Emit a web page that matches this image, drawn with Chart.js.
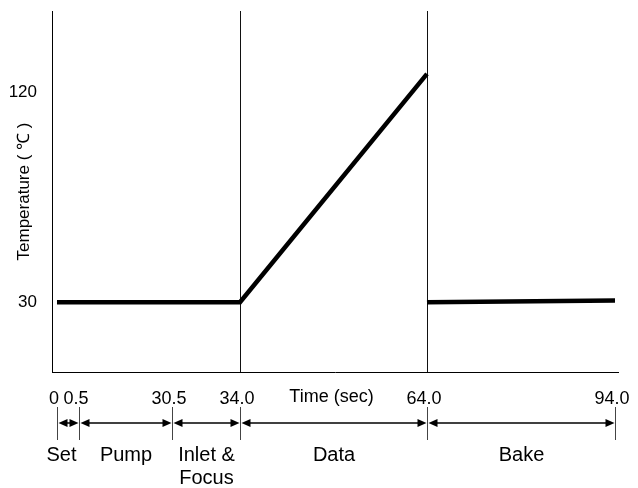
<!DOCTYPE html>
<html><head><meta charset="utf-8">
<script src="https://cdn.jsdelivr.net/npm/chart.js@4.4.1/dist/chart.umd.min.js"></script>
<style>html,body{margin:0;padding:0;background:#fff;}#wrap{width:638px;height:488px;}</style>
</head><body><div id="wrap"><canvas id="c" width="638" height="488"></canvas></div>
<script>
// ---- data ----
const rampTimes = [0, 34, 64];
const rampTemps = [30, 30, 128];
const bakeTimes = [64, 94];
const bakeTemps = [30, 30.7];
const boundaryTimes = [0, 0.5, 30.5, 34, 64, 94];
const boundaryLabels = ['0', '0.5', '30.5', '34.0', '64.0', '94.0'];
const stageNames = [['Set'], ['Pump'], ['Inlet &', 'Focus'], ['Data'], ['Bake']];
const phaseLineTimes = [34, 64];
const tempTicks = [30, 120];
const yTitle = 'Temperature ( \u2103 )';
const xTitle = 'Time (sec)';

// ---- layout: schematic (non-linear) time axis, fraction of plot width per boundary ----
const boundaryPos = [0.0088, 0.0477, 0.212, 0.3322, 0.6625, 0.9947];
const FONT = "'Liberation Sans', Arial, sans-serif";

class StageScale extends Chart.LinearScale {
  getPixelForValue(value) {
    const t = boundaryTimes, f = boundaryPos;
    let i = 0;
    while (i < t.length - 2 && value > t[i + 1]) i++;
    const frac = f[i] + (value - t[i]) * (f[i + 1] - f[i]) / (t[i + 1] - t[i]);
    return this.getPixelForDecimal(frac);
  }
  getValueForPixel(pixel) {
    const t = boundaryTimes, f = boundaryPos;
    const d = this.getDecimalForPixel(pixel);
    let i = 0;
    while (i < f.length - 2 && d > f[i + 1]) i++;
    return t[i] + (d - f[i]) * (t[i + 1] - t[i]) / (f[i + 1] - f[i]);
  }
}
StageScale.id = 'stage';
StageScale.defaults = Chart.LinearScale.defaults;
Chart.register(StageScale);

const stagePlugin = {
  id: 'stages',
  beforeDatasetsDraw(chart) {
    const {ctx, chartArea, scales: {x}} = chart;
    ctx.save();
    ctx.strokeStyle = '#111';
    ctx.lineWidth = 1;
    phaseLineTimes.forEach(t => {
      const px = Math.round(x.getPixelForValue(t)) + 0.5;
      ctx.beginPath();
      ctx.moveTo(px, chartArea.top);
      ctx.lineTo(px, chartArea.bottom);
      ctx.stroke();
    });
    ctx.restore();
  },
  afterDraw(chart) {
    const {ctx, chartArea, scales: {x}} = chart;
    const b = chartArea.bottom;
    ctx.save();
    ctx.fillStyle = '#000';
    ctx.font = '18px ' + FONT;
    ctx.textAlign = 'center';
    ctx.textBaseline = 'middle';
    const p0 = x.getPixelForValue(phaseLineTimes[0]);
    const p1 = x.getPixelForValue(phaseLineTimes[1]);
    ctx.fillText(xTitle, (p0 + p1) / 2 - 2, b + 25);

    const ay = b + 51;
    const px = boundaryTimes.map(t => Math.round(x.getPixelForValue(t)) + 0.5);
    // boundary ticks
    ctx.strokeStyle = '#444';
    ctx.lineWidth = 1;
    px.forEach(p => {
      ctx.beginPath();
      ctx.moveTo(p, b + 35);
      ctx.lineTo(p, b + 68);
      ctx.stroke();
    });
    // arrows
    ctx.strokeStyle = '#000';
    ctx.lineWidth = 1.5;
    const head = 9, hw = 4;
    for (let i = 0; i < px.length - 1; i++) {
      const l = px[i] + 1, r = px[i + 1] - 1;
      ctx.beginPath();
      ctx.moveTo(l + head - 1, ay);
      ctx.lineTo(r - head + 1, ay);
      ctx.stroke();
      ctx.beginPath();
      ctx.moveTo(l, ay); ctx.lineTo(l + head, ay - hw); ctx.lineTo(l + head, ay + hw); ctx.closePath();
      ctx.fill();
      ctx.beginPath();
      ctx.moveTo(r, ay); ctx.lineTo(r - head, ay - hw); ctx.lineTo(r - head, ay + hw); ctx.closePath();
      ctx.fill();
    }
    // stage names
    ctx.font = '20px ' + FONT;
    stageNames.forEach((lines, i) => {
      const l = px[i], r = px[i + 1];
      lines.forEach((txt, k) => {
        const w = ctx.measureText(txt).width;
        let cx = (l + r) / 2;
        if (w > r - l) cx = r - 3 - w / 2;
        ctx.fillText(txt, cx, b + 83 + k * 23);
      });
    });
    ctx.restore();
  }
};

const lineStyle = {borderColor: '#000', borderWidth: 4.5, pointRadius: 0, tension: 0, fill: false, borderJoinStyle: 'miter'};

new Chart(document.getElementById('c'), {
  type: 'line',
  data: {
    datasets: [
      Object.assign({data: rampTimes.map((t, i) => ({x: t, y: rampTemps[i]}))}, lineStyle),
      Object.assign({data: bakeTimes.map((t, i) => ({x: t, y: bakeTemps[i]}))}, lineStyle)
    ]
  },
  options: {
    responsive: false,
    animation: false,
    events: [],
    layout: {padding: {top: 11, right: 20, left: 0, bottom: 0}},
    plugins: {legend: {display: false}, tooltip: {enabled: false}},
    scales: {
      x: {
        type: 'stage',
        min: 0, max: 94,
        grid: {display: false},
        border: {color: '#000', width: 1},
        afterBuildTicks(s) { s.ticks = boundaryTimes.map(v => ({value: v})); },
        afterFit(s) { s.height = 116; s.paddingLeft = 0; s.paddingRight = 0; },
        ticks: {
          autoSkip: false, maxRotation: 0, minRotation: 0,
          padding: 8, labelOffset: -3, color: '#000',
          font: {family: FONT, size: 18},
          callback: (v, i) => boundaryLabels[i]
        }
      },
      y: {
        min: 0, max: 155,
        grid: {display: false},
        border: {color: '#000', width: 1},
        afterBuildTicks(s) { s.ticks = tempTicks.map(v => ({value: v})); },
        afterFit(s) { s.width = 52; s.paddingTop = 0; s.paddingBottom = 0; },
        ticks: {padding: 7, color: '#000', font: {family: FONT, size: 17}, callback: v => String(v)},
        title: {display: true, text: yTitle, color: '#000', font: {family: FONT, size: 17}, padding: {top: 14, bottom: 0}}
      }
    }
  },
  plugins: [stagePlugin]
});
</script></body></html>
